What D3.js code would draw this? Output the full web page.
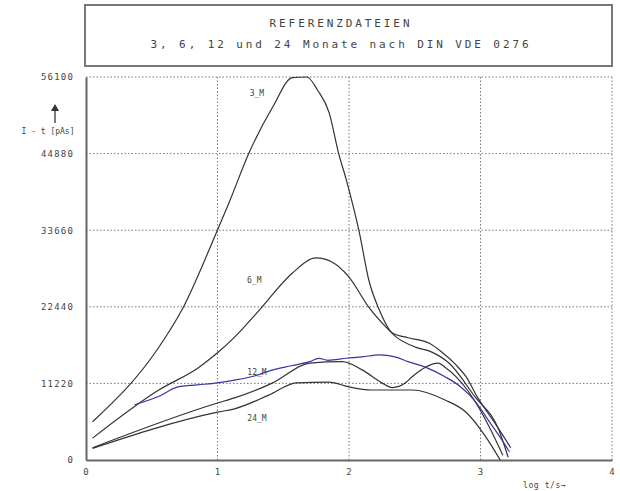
<!DOCTYPE html>
<html>
<head>
<meta charset="utf-8">
<script src="https://cdn.jsdelivr.net/npm/d3@7"></script>
<style>
  body { margin: 0; background: #fff; }
  text { font-family: "DejaVu Sans Mono", monospace; fill: #444; }
</style>
</head>
<body>
<script>
// values (x = log t/s, y = I*t in pAs)
const xTicks = [0, 1, 2, 3, 4]
const yTicks = [0, 11220, 22440, 33660, 44880, 56100]

const x3M = [0.05, 0.55, 0.73, 1.0, 1.09, 1.24, 1.42, 1.57, 1.68, 1.76, 1.85, 1.92, 1.98, 2.08, 2.15, 2.23, 2.33, 2.45, 2.61, 2.70, 2.81, 2.89, 2.98, 3.11, 3.23]
const v3M = [5600, 16400, 22000, 33700, 37800, 45000, 51700, 56000, 56100, 54200, 50800, 45000, 41000, 33200, 26400, 22000, 18600, 17900, 17100, 15900, 14000, 12200, 9100, 5400, 1800]

const x6M = [0.05, 0.55, 0.86, 1.0, 1.13, 1.32, 1.57, 1.75, 1.87, 2.0, 2.15, 2.28, 2.36, 2.51, 2.63, 2.76, 2.96, 3.14, 3.21]
const v6M = [3200, 10200, 13600, 15700, 18000, 22000, 27400, 29600, 29000, 26800, 22400, 19500, 18000, 16500, 15800, 14200, 9200, 4400, 400]

const x12M = [0.05, 1.0, 1.13, 1.42, 1.70, 1.95, 2.10, 2.25, 2.33, 2.43, 2.48, 2.68, 2.73, 2.91, 3.06, 3.17]
const v12M = [1800, 8350, 9100, 11300, 14200, 14400, 13200, 11300, 10600, 11300, 12200, 14200, 13600, 10000, 5100, 700]

const x24M = [0.05, 1.0, 1.13, 1.39, 1.60, 1.85, 2.0, 2.17, 2.48, 2.73, 2.89, 3.04, 3.15]
const v24M = [1700, 7000, 7500, 9500, 11300, 11400, 10700, 10250, 10250, 8800, 7000, 3400, 0]

// measured reference curve (blue)
const xRef = [0.37, 0.55, 0.70, 0.85, 1.0, 1.13, 1.28, 1.42, 1.56, 1.70, 1.77, 1.84, 1.98, 2.10, 2.23, 2.35, 2.45, 2.58, 2.73, 2.85, 2.96, 3.06, 3.14, 3.22]
const vRef = [8100, 9300, 10700, 11000, 11300, 11700, 12300, 13200, 13800, 14400, 14900, 14600, 14900, 15100, 15400, 15100, 14400, 13600, 12200, 10700, 8600, 5800, 3600, 1200]

const curveNames = ['3_M', '6_M', '12_M', '24_M']
const labelX = [1.30, 1.28, 1.30, 1.30]
const labelV = [53800, 26400, 12900, 6150]

const titleLines = ['REFERENZDATEIEN', '3, 6, 12 und 24 Monate nach DIN VDE 0276']

const W = 620, H = 491
const svg = d3.select('body').append('svg')
  .attr('width', W)
  .attr('height', H)

const x = d3.scaleLinear().domain([0, 4]).range([86, 612])
const y = d3.scaleLinear().domain([0, 56100]).range([460, 77])

// title box
svg.append('rect')
  .attr('x', 85).attr('y', 5)
  .attr('width', 527).attr('height', 61)
  .attr('fill', 'none')
  .attr('stroke', '#777')
  .attr('stroke-width', 2)

svg.selectAll('.title')
  .data(titleLines)
  .enter()
  .append('text')
  .attr('x', 341)
  .attr('y', (d, i) => 27 + i * 21)
  .attr('text-anchor', 'middle')
  .style('font-size', '11px')
  .style('letter-spacing', '2.9px')
  .text(d => d)

// dotted grid
svg.selectAll('.gx')
  .data(xTicks.slice(1))
  .enter()
  .append('line')
  .attr('x1', d => x(d)).attr('x2', d => x(d))
  .attr('y1', y(56100)).attr('y2', y(0))
  .attr('stroke', '#777')
  .attr('stroke-dasharray', '1.5,2')

svg.selectAll('.gy')
  .data(yTicks.slice(1))
  .enter()
  .append('line')
  .attr('x1', x(0)).attr('x2', x(4))
  .attr('y1', d => y(d)).attr('y2', d => y(d))
  .attr('stroke', '#777')
  .attr('stroke-dasharray', '1.5,2')

// axes
const xAxis = d3.axisBottom(x).tickValues(xTicks).tickFormat(d3.format('d')).tickSize(0).tickPadding(9)
const yAxis = d3.axisLeft(y).tickValues(yTicks).tickFormat(d3.format('d')).tickSize(0).tickPadding(12)

const gx = svg.append('g').attr('transform', 'translate(0,' + y(0) + ')').call(xAxis)
const gy = svg.append('g').attr('transform', 'translate(' + x(0) + ',0)').call(yAxis)
gx.select('.domain').attr('stroke', '#666').attr('stroke-width', 2)
gy.select('.domain').attr('stroke', '#666').attr('stroke-width', 2)
svg.selectAll('.tick text')
  .style('font-family', '"DejaVu Sans Mono", monospace')
  .style('font-size', '9px')
  .style('letter-spacing', '1.2px')
  .attr('fill', '#444')

// axis titles
svg.append('text')
  .attr('x', 48).attr('y', 134)
  .attr('text-anchor', 'middle')
  .style('font-size', '8px')
  .text('I - t [pAs]')
svg.append('line')
  .attr('x1', 55).attr('x2', 55)
  .attr('y1', 123).attr('y2', 108)
  .attr('stroke', '#333').attr('stroke-width', 1.3)
svg.append('path')
  .attr('d', 'M51,111 L55,104 L59,111 Z')
  .attr('fill', '#333')
svg.append('text')
  .attr('x', 523).attr('y', 488)
  .style('font-size', '8px')
  .style('letter-spacing', '0.6px')
  .text('log t/s\u2192')

// curves
const line = d3.line()
  .x(d => x(d[0]))
  .y(d => y(d[1]))
  .curve(d3.curveMonotoneX)

const series = [
  [x3M, v3M, '#333'],
  [x6M, v6M, '#333'],
  [x12M, v12M, '#333'],
  [x24M, v24M, '#333'],
  [xRef, vRef, '#3535a8']
]

svg.selectAll('.curve')
  .data(series)
  .enter()
  .append('path')
  .attr('d', d => line(d[0].map((xv, i) => [xv, d[1][i]])))
  .attr('fill', 'none')
  .attr('stroke', d => d[2])
  .attr('stroke-width', 1.2)

svg.selectAll('.lbl')
  .data(curveNames)
  .enter()
  .append('text')
  .attr('x', (d, i) => x(labelX[i]))
  .attr('y', (d, i) => y(labelV[i]) + 3)
  .attr('text-anchor', 'middle')
  .style('font-size', '8px')
  .text(d => d)
</script>
</body>
</html>
